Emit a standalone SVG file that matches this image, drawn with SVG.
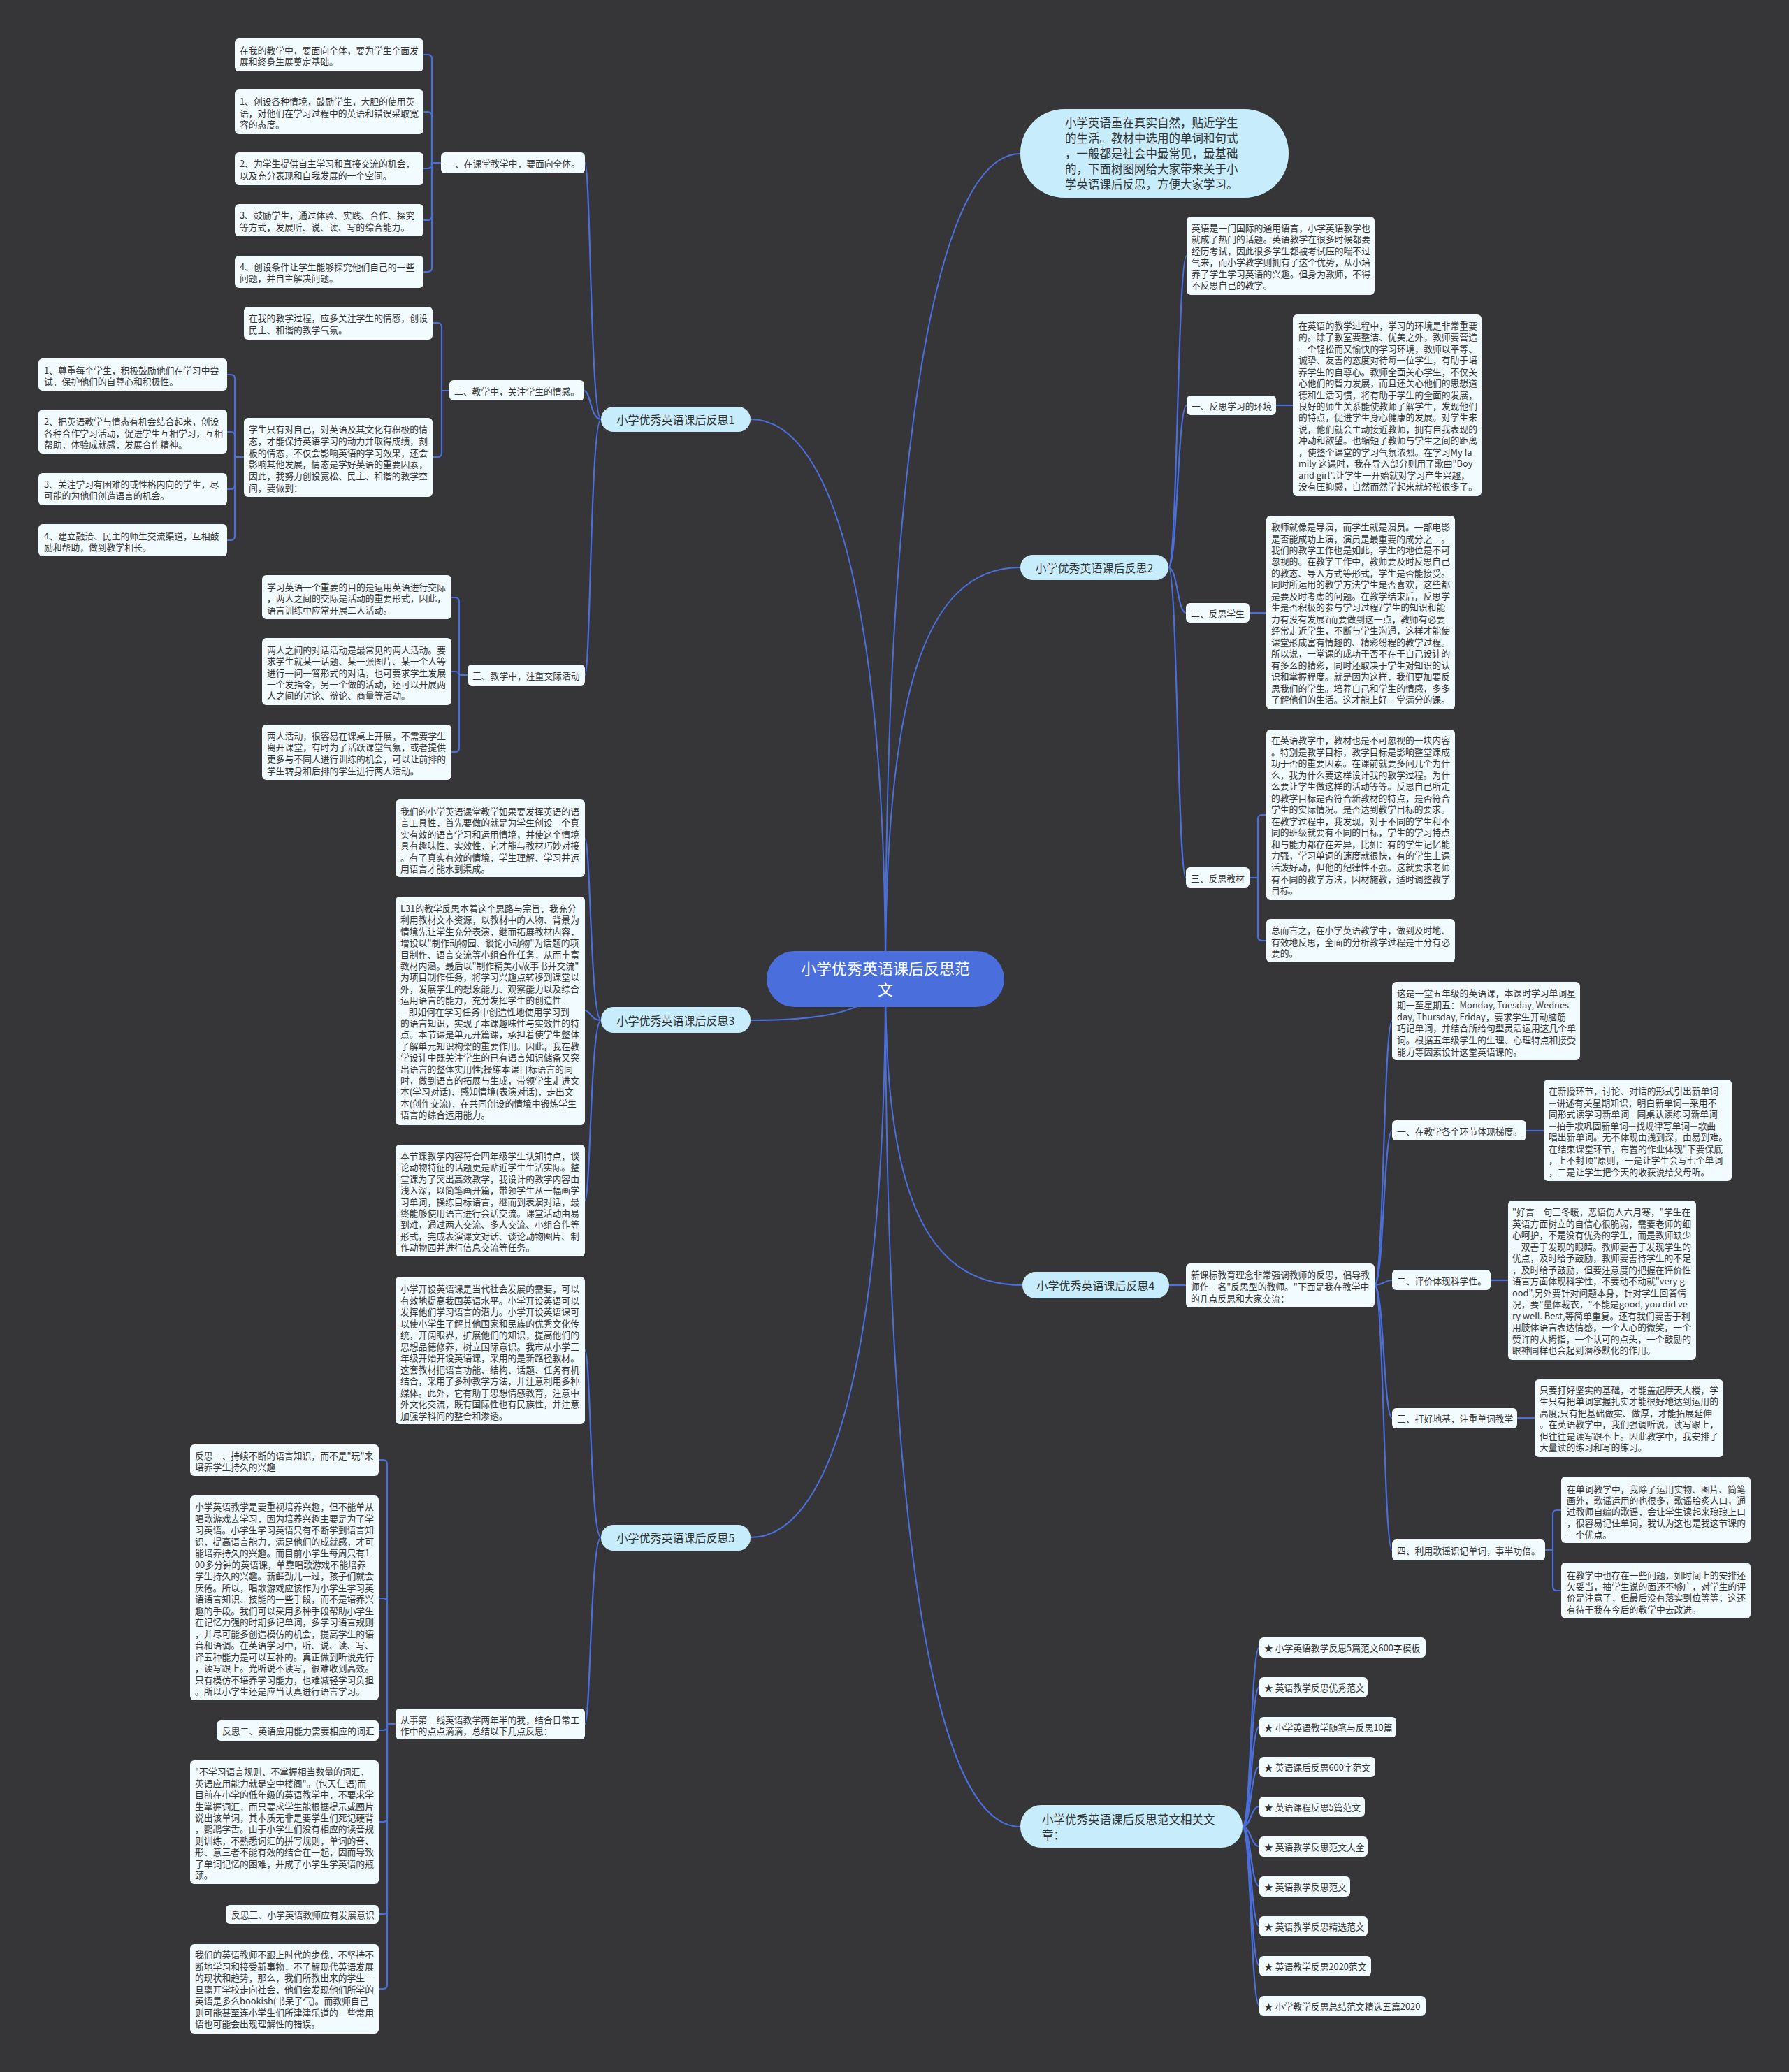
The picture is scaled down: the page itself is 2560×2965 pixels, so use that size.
<svg xmlns="http://www.w3.org/2000/svg" width="2560" height="2965" viewBox="0 0 2560 2965">
<style>
.bx{fill:#f2fbff}
.br{fill:#c7edfc}
.t{font-family:"Noto Sans CJK SC","Noto Sans",sans-serif;font-size:12.8px;fill:#333;dominant-baseline:central}
.bt{font-size:16px}
.it{font-size:16.5px}
.ct{font-family:"Noto Sans CJK SC","Noto Sans",sans-serif;font-size:22px;fill:#fff;dominant-baseline:central}
.ln{fill:none;stroke:#4a6fdc;stroke-width:2.2}
.mn{fill:none;stroke:#4a6fdc;stroke-width:2}
</style>
<rect width="2560" height="2965" fill="#363638"/>

<g id="connectors">
<path class="mn" d="M1267 1401 C1267 700 1330 220 1460 220"/>
<path class="mn" d="M1267 1401 C1267 1000 1320 812 1460 812"/>
<path class="mn" d="M1267 1401 C1267 1700 1320 1839 1463 1839"/>
<path class="mn" d="M1267 1401 C1267 2150 1330 2614 1460 2614"/>
<path class="mn" d="M1267 1401 C1267 900 1200 600 1074 600"/>
<path class="mn" d="M1267 1401 C1250 1455 1150 1460 1074 1460"/>
<path class="mn" d="M1267 1401 C1267 1900 1200 2200 1074 2200"/>

<path class="ln" d="M860 600 C845 600 845 233 837 233"/>
<path class="ln" d="M860 600 C845 600 845 559 836 559"/>
<path class="ln" d="M860 600 C845 600 845 966 837 966"/>
<path class="ln" d="M631 233 H618 V84 Q618 78 612 78 H606"/>
<path class="ln" d="M631 233 H618 V166 Q618 160 612 160 H606"/>
<path class="ln" d="M631 233 H618 V235 Q618 241 612 241 H606"/>
<path class="ln" d="M631 233 H618 V309 Q618 315 612 315 H606"/>
<path class="ln" d="M631 233 H618 V383 Q618 389 612 389 H606"/>
<path class="ln" d="M643 559 H632 V468 Q632 462 626 462 H619"/>
<path class="ln" d="M643 559 H632 V648 Q632 654 626 654 H619"/>
<path class="ln" d="M349 654 H336 V542 Q336 536 330 536 H325"/>
<path class="ln" d="M349 654 H336 V624 Q336 618 330 618 H325"/>
<path class="ln" d="M349 654 H336 V694 Q336 700 330 700 H325"/>
<path class="ln" d="M349 654 H336 V767 Q336 773 330 773 H325"/>
<path class="ln" d="M669 966 H657 V861 Q657 855 651 855 H646"/>
<path class="ln" d="M669 966 H657 Q657 961 651 961 H646"/>
<path class="ln" d="M669 966 H657 V1070 Q657 1076 651 1076 H646"/>

<path class="ln" d="M860 1460 C845 1460 845 1200 837 1200"/>
<path class="ln" d="M860 1460 C845 1460 845 1446 837 1446"/>
<path class="ln" d="M860 1460 C845 1460 845 1718 837 1718"/>

<path class="ln" d="M860 2200 C845 2200 845 1932 837 1932"/>
<path class="ln" d="M860 2200 C845 2200 845 2467 837 2467"/>
<path class="ln" d="M566 2467 H554 V2095 Q554 2089 548 2089 H542"/>
<path class="ln" d="M566 2467 H554 V2293 Q554 2287 548 2287 H542"/>
<path class="ln" d="M566 2467 H554 V2470 Q554 2476 548 2476 H542"/>
<path class="ln" d="M566 2467 H554 V2601 Q554 2607 548 2607 H542"/>
<path class="ln" d="M566 2467 H554 V2733 Q554 2739 548 2739 H542"/>
<path class="ln" d="M566 2467 H554 V2840 Q554 2846 548 2846 H542"/>

<path class="ln" d="M1672 812 C1685 812 1685 366 1698 366"/>
<path class="ln" d="M1672 812 C1685 812 1685 580 1698 580"/>
<path class="ln" d="M1672 812 C1685 812 1685 877 1697 877"/>
<path class="ln" d="M1672 812 C1685 812 1685 1256 1697 1256"/>
<path class="ln" d="M1826 580 H1850"/>
<path class="ln" d="M1788 877 H1812"/>
<path class="ln" d="M1788 1256 H1800 V1172 Q1800 1166 1806 1166 H1812"/>
<path class="ln" d="M1788 1256 H1800 V1340 Q1800 1346 1806 1346 H1812"/>

<path class="ln" d="M1673 1839 H1697"/>
<path class="ln" d="M1967 1839 C1980 1839 1980 1461 1992 1461"/>
<path class="ln" d="M1967 1839 C1980 1839 1980 1618 1992 1618"/>
<path class="ln" d="M1967 1839 C1980 1839 1980 1832 1992 1832"/>
<path class="ln" d="M1967 1839 C1980 1839 1980 2029 1992 2029"/>
<path class="ln" d="M1967 1839 C1980 1839 1980 2218 1992 2218"/>
<path class="ln" d="M2184 1618 H2209"/>
<path class="ln" d="M2133 1832 H2158"/>
<path class="ln" d="M2171 2029 H2196"/>
<path class="ln" d="M2211 2218 H2222 V2167 Q2222 2161 2228 2161 H2234"/>
<path class="ln" d="M2211 2218 H2222 V2270 Q2222 2276 2228 2276 H2234"/>

<path class="ln" d="M1778 2614 C1790 2614 1790 2357 1802 2357"/>
<path class="ln" d="M1778 2614 C1790 2614 1790 2414 1802 2414"/>
<path class="ln" d="M1778 2614 C1790 2614 1790 2471 1802 2471"/>
<path class="ln" d="M1778 2614 C1790 2614 1790 2528 1802 2528"/>
<path class="ln" d="M1778 2614 C1790 2614 1790 2585 1802 2585"/>
<path class="ln" d="M1778 2614 C1790 2614 1790 2642 1802 2642"/>
<path class="ln" d="M1778 2614 C1790 2614 1790 2699 1802 2699"/>
<path class="ln" d="M1778 2614 C1790 2614 1790 2756 1802 2756"/>
<path class="ln" d="M1778 2614 C1790 2614 1790 2813 1802 2813"/>
<path class="ln" d="M1778 2614 C1790 2614 1790 2870 1802 2870"/>
</g>

<g id="center">
<rect x="1097" y="1361" width="340" height="80" rx="40" fill="#4a6fdc"/>
<text class="ct" text-anchor="middle"><tspan x="1267" y="1384">小学优秀英语课后反思范</tspan><tspan x="1267" y="1414">文</tspan></text>
</g>

<g id="intro">
<rect class="br" x="1460" y="156" width="384" height="127" rx="63"/>
<text class="t it"><tspan x="1524" y="175">小学英语重在真实自然，贴近学生</tspan><tspan x="1524" y="197">的生活。教材中选用的单词和句式</tspan><tspan x="1524" y="219">，一般都是社会中最常见，最基础</tspan><tspan x="1524" y="241">的，下面树图网给大家带来关于小</tspan><tspan x="1524" y="263">学英语课后反思，方便大家学习。</tspan></text>
</g>

<g id="branch1">
<rect class="br" x="860" y="582" width="214" height="36" rx="18"/>
<text class="t bt" x="967" y="600" text-anchor="middle">小学优秀英语课后反思1</text>
</g>
<g id="b1-s1">
<rect class="bx" x="631" y="218" width="206" height="30" rx="6"/>
<text class="t" x="638" y="233">一、在课堂教学中，要面向全体。</text>
</g>
<g id="b1-s1-a">
<rect class="bx" x="336" y="55" width="270" height="47" rx="6"/>
<text class="t"><tspan x="343" y="71">在我的教学中，要面向全体，要为学生全面发</tspan><tspan x="343" y="87">展和终身生展奠定基础。</tspan></text>
</g>
<g id="b1-s1-b">
<rect class="bx" x="336" y="128" width="270" height="64" rx="6"/>
<text class="t"><tspan x="343" y="144">1、创设各种情境，鼓励学生，大胆的使用英</tspan><tspan x="343" y="161">语，对他们在学习过程中的英语和错误采取宽</tspan><tspan x="343" y="177">容的态度。</tspan></text>
</g>
<g id="b1-s1-c">
<rect class="bx" x="336" y="218" width="270" height="47" rx="6"/>
<text class="t"><tspan x="343" y="233">2、为学生提供自主学习和直接交流的机会，</tspan><tspan x="343" y="250">以及充分表现和自我发展的一个空间。</tspan></text>
</g>
<g id="b1-s1-d">
<rect class="bx" x="336" y="292" width="270" height="46" rx="6"/>
<text class="t"><tspan x="343" y="307">3、鼓励学生，通过体验、实践、合作、探究</tspan><tspan x="343" y="324">等方式，发展听、说、读、写的综合能力。</tspan></text>
</g>
<g id="b1-s1-e">
<rect class="bx" x="336" y="366" width="270" height="46" rx="6"/>
<text class="t"><tspan x="343" y="381">4、创设条件让学生能够探究他们自己的一些</tspan><tspan x="343" y="397">问题，并自主解决问题。</tspan></text>
</g>

<g id="b1-s2">
<rect class="bx" x="643" y="544" width="193" height="29" rx="6"/>
<text class="t" x="650" y="559">二、教学中，关注学生的情感。</text>
</g>
<g id="b1-s2-f">
<rect class="bx" x="349" y="439" width="270" height="47" rx="6"/>
<text class="t"><tspan x="356" y="454">在我的教学过程，应多关注学生的情感，创设</tspan><tspan x="356" y="471">民主、和谐的教学气氛。</tspan></text>
</g>
<g id="b1-s2-g">
<rect class="bx" x="349" y="598" width="270" height="113" rx="6"/>
<text class="t"><tspan x="356" y="613">学生只有对自己，对英语及其文化有积极的情</tspan><tspan x="356" y="630">态，才能保持英语学习的动力并取得成绩，刻</tspan><tspan x="356" y="647">板的情态，不仅会影响英语的学习效果，还会</tspan><tspan x="356" y="663">影响其他发展，情态是学好英语的重要因素，</tspan><tspan x="356" y="680">因此，我努力创设宽松、民主、和谐的教学空</tspan><tspan x="356" y="697">间，要做到：</tspan></text>
</g>
<g id="b1-s2-g1">
<rect class="bx" x="55" y="513" width="270" height="46" rx="6"/>
<text class="t"><tspan x="63" y="529">1、尊重每个学生，积极鼓励他们在学习中尝</tspan><tspan x="63" y="545">试，保护他们的自尊心和积极性。</tspan></text>
</g>
<g id="b1-s2-g2">
<rect class="bx" x="55" y="586" width="270" height="63" rx="6"/>
<text class="t"><tspan x="63" y="602">2、把英语教学与情态有机会结合起来，创设</tspan><tspan x="63" y="619">各种合作学习活动，促进学生互相学习，互相</tspan><tspan x="63" y="635">帮助，体验成就感，发展合作精神。</tspan></text>
</g>
<g id="b1-s2-g3">
<rect class="bx" x="55" y="677" width="270" height="46" rx="6"/>
<text class="t"><tspan x="63" y="692">3、关注学习有困难的或性格内向的学生，尽</tspan><tspan x="63" y="708">可能的为他们创造语言的机会。</tspan></text>
</g>
<g id="b1-s2-g4">
<rect class="bx" x="55" y="750" width="270" height="46" rx="6"/>
<text class="t"><tspan x="63" y="766">4、建立融洽、民主的师生交流渠道，互相鼓</tspan><tspan x="63" y="782">励和帮助，做到教学相长。</tspan></text>
</g>

<g id="b1-s3">
<rect class="bx" x="669" y="951" width="168" height="30" rx="6"/>
<text class="t" x="676" y="966">三、教学中，注重交际活动</text>
</g>
<g id="b1-s3-h">
<rect class="bx" x="375" y="823" width="271" height="63" rx="6"/>
<text class="t"><tspan x="382" y="839">学习英语一个重要的目的是运用英语进行交际</tspan><tspan x="382" y="855">，两人之间的交际是活动的重要形式，因此，</tspan><tspan x="382" y="872">语言训练中应常开展二人活动。</tspan></text>
</g>
<g id="b1-s3-i">
<rect class="bx" x="375" y="913" width="271" height="96" rx="6"/>
<text class="t"><tspan x="382" y="929">两人之间的对话活动是最常见的两人活动。要</tspan><tspan x="382" y="945">求学生就某一话题、某一张图片、某一个人等</tspan><tspan x="382" y="962">进行一问一答形式的对话，也可要求学生发展</tspan><tspan x="382" y="978">一个发指令，另一个做的活动，还可以开展两</tspan><tspan x="382" y="994">人之间的讨论、辩论、商量等活动。</tspan></text>
</g>
<g id="b1-s3-j">
<rect class="bx" x="375" y="1037" width="271" height="79" rx="6"/>
<text class="t"><tspan x="382" y="1052">两人活动，很容易在课桌上开展，不需要学生</tspan><tspan x="382" y="1068">离开课堂，有时为了活跃课堂气氛，或者提供</tspan><tspan x="382" y="1085">更多与不同人进行训练的机会，可以让前排的</tspan><tspan x="382" y="1102">学生转身和后排的学生进行两人活动。</tspan></text>
</g>

<g id="branch3">
<rect class="br" x="860" y="1441" width="214" height="37" rx="18"/>
<text class="t bt" x="967" y="1460" text-anchor="middle">小学优秀英语课后反思3</text>
</g>
<g id="b3-1">
<rect class="bx" x="566" y="1144" width="271" height="111" rx="6"/>
<text class="t"><tspan x="573" y="1160">我们的小学英语课堂教学如果要发挥英语的语</tspan><tspan x="573" y="1176">言工具性，首先要做的就是为学生创设一个真</tspan><tspan x="573" y="1193">实有效的语言学习和运用情境，并使这个情境</tspan><tspan x="573" y="1209">具有趣味性、实效性，它才能与教材巧妙对接</tspan><tspan x="573" y="1226">。有了真实有效的情境，学生理解、学习并运</tspan><tspan x="573" y="1242">用语言才能水到渠成。</tspan></text>
</g>
<g id="b3-2">
<rect class="bx" x="566" y="1283" width="271" height="327" rx="6"/>
<text class="t"><tspan x="573" y="1299">L31的教学反思本着这个思路与宗旨，我充分</tspan><tspan x="573" y="1315.4">利用教材文本资源，以教材中的人物、背景为</tspan><tspan x="573" y="1331.8">情境先让学生充分表演，继而拓展教材内容，</tspan><tspan x="573" y="1348.2">增设以"制作动物园、谈论小动物"为话题的项</tspan><tspan x="573" y="1364.6">目制作、语言交流等小组合作任务，从而丰富</tspan><tspan x="573" y="1381">教材内涵。最后以"制作精美小故事书并交流"</tspan><tspan x="573" y="1397.4">为项目制作任务，将学习兴趣点转移到课堂以</tspan><tspan x="573" y="1413.8">外，发展学生的想象能力、观察能力以及综合</tspan><tspan x="573" y="1430.2">运用语言的能力，充分发挥学生的创造性—</tspan><tspan x="573" y="1446.6">—即如何在学习任务中创造性地使用学习到</tspan><tspan x="573" y="1463">的语言知识，实现了本课趣味性与实效性的特</tspan><tspan x="573" y="1479.4">点。本节课是单元开篇课，承担着使学生整体</tspan><tspan x="573" y="1495.8">了解单元知识构架的重要作用。因此，我在教</tspan><tspan x="573" y="1512.2">学设计中既关注学生的已有语言知识储备又突</tspan><tspan x="573" y="1528.6">出语言的整体实用性;操练本课目标语言的同</tspan><tspan x="573" y="1545">时，做到语言的拓展与生成，带领学生走进文</tspan><tspan x="573" y="1561.4">本(学习对话)、感知情境(表演对话)，走出文</tspan><tspan x="573" y="1577.8">本(创作交流)，在共同创设的情境中锻炼学生</tspan><tspan x="573" y="1594.2">语言的综合运用能力。</tspan></text>
</g>
<g id="b3-3">
<rect class="bx" x="566" y="1638" width="271" height="160" rx="6"/>
<text class="t"><tspan x="573" y="1653">本节课教学内容符合四年级学生认知特点，谈</tspan><tspan x="573" y="1669.4">论动物特征的话题更是贴近学生生活实际。整</tspan><tspan x="573" y="1685.8">堂课为了突出高效教学，我设计的教学内容由</tspan><tspan x="573" y="1702.2">浅入深，以简笔画开篇，带领学生从一幅画学</tspan><tspan x="573" y="1718.6">习单词，操练目标语言，继而到表演对话，最</tspan><tspan x="573" y="1735">终能够使用语言进行会话交流。课堂活动由易</tspan><tspan x="573" y="1751.4">到难，通过两人交流、多人交流、小组合作等</tspan><tspan x="573" y="1767.8">形式，完成表演课文对话、谈论动物图片、制</tspan><tspan x="573" y="1784.2">作动物园并进行信息交流等任务。</tspan></text>
</g>

<g id="branch5">
<rect class="br" x="860" y="2182" width="214" height="37" rx="18"/>
<text class="t bt" x="967" y="2200" text-anchor="middle">小学优秀英语课后反思5</text>
</g>
<g id="b5-k">
<rect class="bx" x="566" y="1827" width="271" height="211" rx="6"/>
<text class="t"><tspan x="573" y="1843">小学开设英语课是当代社会发展的需要，可以</tspan><tspan x="573" y="1859.5">有效地提高我国英语水平。小学开设英语可以</tspan><tspan x="573" y="1876">发挥他们学习语言的潜力。小学开设英语课可</tspan><tspan x="573" y="1892.5">以使小学生了解其他国家和民族的优秀文化传</tspan><tspan x="573" y="1909">统，开阔眼界，扩展他们的知识，提高他们的</tspan><tspan x="573" y="1925.5">思想品德修养，树立国际意识。我市从小学三</tspan><tspan x="573" y="1942">年级开始开设英语课，采用的是新路径教材。</tspan><tspan x="573" y="1958.5">这套教材把语言功能、结构、话题、任务有机</tspan><tspan x="573" y="1975">结合，采用了多种教学方法，并注意利用多种</tspan><tspan x="573" y="1991.5">媒体。此外，它有助于思想情感教育，注意中</tspan><tspan x="573" y="2008">外文化交流，既有国际性也有民族性，并注意</tspan><tspan x="573" y="2024.5">加强学科间的整合和渗透。</tspan></text>
</g>
<g id="b5-l">
<rect class="bx" x="566" y="2445" width="271" height="44" rx="6"/>
<text class="t"><tspan x="573" y="2460">从事第一线英语教学两年半的我，结合日常工</tspan><tspan x="573" y="2476">作中的点点滴滴，总结以下几点反思：</tspan></text>
</g>
<g id="b5-l1">
<rect class="bx" x="272" y="2067" width="270" height="45" rx="6"/>
<text class="t"><tspan x="279" y="2082">反思一、持续不断的语言知识，而不是"玩"来</tspan><tspan x="279" y="2098">培养学生持久的兴趣</tspan></text>
</g>
<g id="b5-l2">
<rect class="bx" x="272" y="2140" width="270" height="293" rx="6"/>
<text class="t"><tspan x="279" y="2155">小学英语教学是要重视培养兴趣，但不能单从</tspan><tspan x="279" y="2171.5">唱歌游戏去学习，因为培养兴趣主要是为了学</tspan><tspan x="279" y="2188">习英语。小学生学习英语只有不断学到语言知</tspan><tspan x="279" y="2204.5">识，提高语言能力，满足他们的成就感，才可</tspan><tspan x="279" y="2221">能培养持久的兴趣。而目前小学生每周只有1</tspan><tspan x="279" y="2237.5">00多分钟的英语课，单靠唱歌游戏不能培养</tspan><tspan x="279" y="2254">学生持久的兴趣。新鲜劲儿一过，孩子们就会</tspan><tspan x="279" y="2270.5">厌倦。所以，唱歌游戏应该作为小学生学习英</tspan><tspan x="279" y="2287">语语言知识、技能的一些手段，而不是培养兴</tspan><tspan x="279" y="2303.5">趣的手段。我们可以采用多种手段帮助小学生</tspan><tspan x="279" y="2320">在记忆力强的时期多记单词，多学习语言规则</tspan><tspan x="279" y="2336.5">，并尽可能多创造模仿的机会，提高学生的语</tspan><tspan x="279" y="2353">音和语调。在英语学习中，听、说、读、写、</tspan><tspan x="279" y="2369.5">译五种能力是可以互补的。真正做到听说先行</tspan><tspan x="279" y="2386">，读写跟上。光听说不读写，很难收到高效。</tspan><tspan x="279" y="2402.5">只有模仿不培养学习能力，也难减轻学习负担</tspan><tspan x="279" y="2419">。所以小学生还是应当认真进行语言学习。</tspan></text>
</g>
<g id="b5-l3">
<rect class="bx" x="310" y="2462" width="232" height="29" rx="6"/>
<text class="t" x="318" y="2476">反思二、英语应用能力需要相应的词汇</text>
</g>
<g id="b5-l4">
<rect class="bx" x="272" y="2519" width="270" height="177" rx="6"/>
<text class="t"><tspan x="279" y="2534">"不学习语言规则、不掌握相当数量的词汇，</tspan><tspan x="279" y="2550.5">英语应用能力就是空中楼阁"。(包天仁语)而</tspan><tspan x="279" y="2567">目前在小学的低年级的英语教学中，不要求学</tspan><tspan x="279" y="2583.5">生掌握词汇，而只要求学生能根据提示或图片</tspan><tspan x="279" y="2600">说出该单词，其本质无非是要学生们死记硬背</tspan><tspan x="279" y="2616">，鹦鹉学舌。由于小学生们没有相应的读音规</tspan><tspan x="279" y="2632.5">则训练，不熟悉词汇的拼写规则，单词的音、</tspan><tspan x="279" y="2649">形、意三者不能有效的结合在一起，因而导致</tspan><tspan x="279" y="2665.5">了单词记忆的困难，并成了小学生学英语的瓶</tspan><tspan x="279" y="2682">颈。</tspan></text>
</g>
<g id="b5-l5">
<rect class="bx" x="323" y="2726" width="219" height="27" rx="6"/>
<text class="t" x="331" y="2739.5">反思三、小学英语教师应有发展意识</text>
</g>
<g id="b5-l6">
<rect class="bx" x="272" y="2782" width="270" height="128" rx="6"/>
<text class="t"><tspan x="279" y="2796">我们的英语教师不跟上时代的步伐，不坚持不</tspan><tspan x="279" y="2812.5">断地学习和接受新事物，不了解现代英语发展</tspan><tspan x="279" y="2829">的现状和趋势，那么，我们所教出来的学生一</tspan><tspan x="279" y="2845.5">旦离开学校走向社会，他们会发现他们所学的</tspan><tspan x="279" y="2862">英语是多么bookish(书呆子气)。而教师自己</tspan><tspan x="279" y="2878.5">则可能甚至连小学生们所津津乐道的一些常用</tspan><tspan x="279" y="2895">语也可能会出现理解性的错误。</tspan></text>
</g>

<g id="branch2">
<rect class="br" x="1460" y="794" width="212" height="36" rx="18"/>
<text class="t bt" x="1566" y="812" text-anchor="middle">小学优秀英语课后反思2</text>
</g>
<g id="b2-m">
<rect class="bx" x="1698" y="310" width="269" height="112" rx="6"/>
<text class="t"><tspan x="1705" y="325">英语是一门国际的通用语言，小学英语教学也</tspan><tspan x="1705" y="341.4">就成了热门的话题。英语教学在很多时候都要</tspan><tspan x="1705" y="357.8">经历考试，因此很多学生都被考试压的喘不过</tspan><tspan x="1705" y="374.2">气来，而小学教学则拥有了这个优势，从小培</tspan><tspan x="1705" y="390.6">养了学生学习英语的兴趣。但身为教师，不得</tspan><tspan x="1705" y="407">不反思自己的教学。</tspan></text>
</g>
<g id="b2-s1">
<rect class="bx" x="1698" y="566" width="128" height="28" rx="6"/>
<text class="t" x="1705" y="580">一、反思学习的环境</text>
</g>
<g id="b2-s1-n">
<rect class="bx" x="1850" y="450" width="270" height="260" rx="6"/>
<text class="t"><tspan x="1858" y="465">在英语的教学过程中，学习的环境是非常重要</tspan><tspan x="1858" y="481.4">的。除了教室要整洁、优美之外，教师要营造</tspan><tspan x="1858" y="497.9">一个轻松而又愉快的学习环境，教师以平等、</tspan><tspan x="1858" y="514.3">诚挚、友善的态度对待每一位学生，有助于培</tspan><tspan x="1858" y="530.7">养学生的自尊心。教师全面关心学生，不仅关</tspan><tspan x="1858" y="547.1">心他们的智力发展，而且还关心他们的思想道</tspan><tspan x="1858" y="563.6">德和生活习惯，将有助于学生的全面的发展，</tspan><tspan x="1858" y="580">良好的师生关系能使教师了解学生，发现他们</tspan><tspan x="1858" y="596.4">的特点，促进学生身心健康的发展。对学生来</tspan><tspan x="1858" y="612.9">说，他们就会主动接近教师，拥有自我表现的</tspan><tspan x="1858" y="629.3">冲动和欲望。也缩短了教师与学生之间的距离</tspan><tspan x="1858" y="645.7">，使整个课堂的学习气氛浓烈。在学习My fa</tspan><tspan x="1858" y="662.1">mily 这课时，我在导入部分则用了歌曲"Boy</tspan><tspan x="1858" y="678.6">and girl".让学生一开始就对学习产生兴趣，</tspan><tspan x="1858" y="695">没有压抑感，自然而然学起来就轻松很多了。</tspan></text>
</g>
<g id="b2-s2">
<rect class="bx" x="1697" y="863" width="91" height="28" rx="6"/>
<text class="t" x="1704" y="877">二、反思学生</text>
</g>
<g id="b2-s2-o">
<rect class="bx" x="1812" y="738" width="270" height="277" rx="6"/>
<text class="t"><tspan x="1819" y="753">教师就像是导演，而学生就是演员。一部电影</tspan><tspan x="1819" y="769.5">是否能成功上演，演员是最重要的成分之一。</tspan><tspan x="1819" y="785.9">我们的教学工作也是如此，学生的地位是不可</tspan><tspan x="1819" y="802.4">忽视的。在教学工作中，教师要及时反思自己</tspan><tspan x="1819" y="818.9">的教态、导入方式等形式，学生是否能接受。</tspan><tspan x="1819" y="835.4">同时所运用的教学方法学生是否喜欢，这些都</tspan><tspan x="1819" y="851.8">是要及时考虑的问题。在教学结束后，反思学</tspan><tspan x="1819" y="868.3">生是否积极的参与学习过程?学生的知识和能</tspan><tspan x="1819" y="884.8">力有没有发展?而要做到这一点，教师有必要</tspan><tspan x="1819" y="901.2">经常走近学生，不断与学生沟通，这样才能使</tspan><tspan x="1819" y="917.7">课堂形成富有情趣的、精彩纷程的教学过程。</tspan><tspan x="1819" y="934.2">所以说，一堂课的成功于否不在于自己设计的</tspan><tspan x="1819" y="950.6">有多么的精彩，同时还取决于学生对知识的认</tspan><tspan x="1819" y="967.1">识和掌握程度。就是因为这样，我们更加要反</tspan><tspan x="1819" y="983.6">思我们的学生。培养自己和学生的情感，多多</tspan><tspan x="1819" y="1000">了解他们的生活。这才能上好一堂满分的课。</tspan></text>
</g>
<g id="b2-s3">
<rect class="bx" x="1697" y="1241" width="91" height="29" rx="6"/>
<text class="t" x="1704" y="1256">三、反思教材</text>
</g>
<g id="b2-s3-p">
<rect class="bx" x="1812" y="1044" width="270" height="244" rx="6"/>
<text class="t"><tspan x="1819" y="1058">在英语教学中，教材也是不可忽视的一块内容</tspan><tspan x="1819" y="1074.5">。特别是教学目标，教学目标是影响整堂课成</tspan><tspan x="1819" y="1091.1">功于否的重要因素。在课前就要多问几个为什</tspan><tspan x="1819" y="1107.6">么，我为什么要这样设计我的教学过程。为什</tspan><tspan x="1819" y="1124.2">么要让学生做这样的活动等等。反思自己所定</tspan><tspan x="1819" y="1140.7">的教学目标是否符合新教材的特点，是否符合</tspan><tspan x="1819" y="1157.2">学生的实际情况。是否达到教学目标的要求。</tspan><tspan x="1819" y="1173.8">在教学过程中，我发现，对于不同的学生和不</tspan><tspan x="1819" y="1190.3">同的班级就要有不同的目标，学生的学习特点</tspan><tspan x="1819" y="1206.9">和与能力都存在差异，比如：有的学生记忆能</tspan><tspan x="1819" y="1223.4">力强，学习单词的速度就很快，有的学生上课</tspan><tspan x="1819" y="1239.9">活泼好动，但他的纪律性不强。这就要求老师</tspan><tspan x="1819" y="1256.5">有不同的教学方法，因材施教，适时调整教学</tspan><tspan x="1819" y="1273">目标。</tspan></text>
</g>
<g id="b2-s3-q">
<rect class="bx" x="1812" y="1315" width="270" height="62" rx="6"/>
<text class="t"><tspan x="1819" y="1330">总而言之，在小学英语教学中，做到及时地、</tspan><tspan x="1819" y="1347">有效地反思，全面的分析教学过程是十分有必</tspan><tspan x="1819" y="1363">要的。</tspan></text>
</g>

<g id="branch4">
<rect class="br" x="1463" y="1820" width="210" height="38" rx="19"/>
<text class="t bt" x="1568" y="1839" text-anchor="middle">小学优秀英语课后反思4</text>
</g>
<g id="b4-r">
<rect class="bx" x="1697" y="1808" width="270" height="63" rx="6"/>
<text class="t"><tspan x="1704" y="1823">新课标教育理念非常强调教师的反思，倡导教</tspan><tspan x="1704" y="1840">师作一名"反思型的教师。"下面是我在教学中</tspan><tspan x="1704" y="1857">的几点反思和大家交流：</tspan></text>
</g>
<g id="b4-s">
<rect class="bx" x="1992" y="1405" width="269" height="112" rx="6"/>
<text class="t"><tspan x="1999" y="1420">这是一堂五年级的英语课，本课时学习单词星</tspan><tspan x="1999" y="1436.8">期一至星期五：Monday, Tuesday, Wednes</tspan><tspan x="1999" y="1453.6">day, Thursday, Friday，要求学生开动脑筋</tspan><tspan x="1999" y="1470.4">巧记单词，并结合所给句型灵活运用这几个单</tspan><tspan x="1999" y="1487.2">词。根据五年级学生的生理、心理特点和接受</tspan><tspan x="1999" y="1504">能力等因素设计这堂英语课的。</tspan></text>
</g>
<g id="b4-s1">
<rect class="bx" x="1992" y="1603" width="192" height="29" rx="6"/>
<text class="t" x="1999" y="1618">一、在教学各个环节体现梯度。</text>
</g>
<g id="b4-s1-t">
<rect class="bx" x="2209" y="1545" width="269" height="145" rx="6"/>
<text class="t"><tspan x="2216" y="1560">在新授环节，讨论、对话的形式引出新单词</tspan><tspan x="2216" y="1576.6">—讲述有关星期知识，明白新单词—采用不</tspan><tspan x="2216" y="1593.1">同形式读学习新单词—同桌认读练习新单词</tspan><tspan x="2216" y="1609.7">—拍手歌巩固新单词—找规律写单词—歌曲</tspan><tspan x="2216" y="1626.3">唱出新单词。无不体现由浅到深，由易到难。</tspan><tspan x="2216" y="1642.9">在结束课堂环节，布置的作业体现"下要保底</tspan><tspan x="2216" y="1659.4">，上不封顶"原则，一是让学生会写七个单词</tspan><tspan x="2216" y="1676">，二是让学生把今天的收获说给父母听。</tspan></text>
</g>
<g id="b4-s2">
<rect class="bx" x="1992" y="1817" width="141" height="29" rx="6"/>
<text class="t" x="1999" y="1832">二、评价体现科学性。</text>
</g>
<g id="b4-s2-u">
<rect class="bx" x="2158" y="1718" width="269" height="228" rx="6"/>
<text class="t"><tspan x="2164" y="1733">"好言一句三冬暖，恶语伤人六月寒，"学生在</tspan><tspan x="2164" y="1749.5">英语方面树立的自信心很脆弱，需要老师的细</tspan><tspan x="2164" y="1766">心呵护，不是没有优秀的学生，而是教师缺少</tspan><tspan x="2164" y="1782.5">一双善于发现的眼睛。教师要善于发现学生的</tspan><tspan x="2164" y="1799">优点，及时给予鼓励，教师要善待学生的不足</tspan><tspan x="2164" y="1815.5">，及时给予鼓励，但要注意度的把握在评价性</tspan><tspan x="2164" y="1832">语言方面体现科学性，不要动不动就"very g</tspan><tspan x="2164" y="1848.5">ood",另外要针对问题本身，针对学生回答情</tspan><tspan x="2164" y="1865">况，要"量体裁衣，"不能是good, you did ve</tspan><tspan x="2164" y="1881.5">ry well. Best,等简单重复。还有我们要善于利</tspan><tspan x="2164" y="1898">用肢体语言表达情感，一个人心的微笑，一个</tspan><tspan x="2164" y="1914.5">赞许的大拇指，一个认可的点头，一个鼓励的</tspan><tspan x="2164" y="1931">眼神同样也会起到潜移默化的作用。</tspan></text>
</g>
<g id="b4-s3">
<rect class="bx" x="1992" y="2015" width="179" height="29" rx="6"/>
<text class="t" x="1999" y="2029">三、打好地基，注重单词教学</text>
</g>
<g id="b4-s3-v">
<rect class="bx" x="2196" y="1974" width="270" height="111" rx="6"/>
<text class="t"><tspan x="2203" y="1988">只要打好坚实的基础，才能盖起摩天大楼，学</tspan><tspan x="2203" y="2004.4">生只有把单词掌握扎实才能很好地达到运用的</tspan><tspan x="2203" y="2020.8">高度;只有把基础做实、做厚，才能拓展延伸</tspan><tspan x="2203" y="2037.2">。在英语教学中，我们强调听说，读写跟上，</tspan><tspan x="2203" y="2053.6">但往往是读写跟不上。因此教学中，我安排了</tspan><tspan x="2203" y="2070">大量读的练习和写的练习。</tspan></text>
</g>
<g id="b4-s4">
<rect class="bx" x="1992" y="2203" width="219" height="30" rx="6"/>
<text class="t" x="1999" y="2218">四、利用歌谣识记单词，事半功倍。</text>
</g>
<g id="b4-s4-w">
<rect class="bx" x="2234" y="2113" width="271" height="95" rx="6"/>
<text class="t"><tspan x="2242" y="2130">在单词教学中，我除了运用实物、图片、简笔</tspan><tspan x="2242" y="2146">画外，歌谣运用的也很多，歌谣脍炙人口，通</tspan><tspan x="2242" y="2162">过教师自编的歌谣，会让学生读起来琅琅上口</tspan><tspan x="2242" y="2178">，很容易记住单词，我认为这也是我这节课的</tspan><tspan x="2242" y="2195">一个优点。</tspan></text>
</g>
<g id="b4-s4-x">
<rect class="bx" x="2234" y="2236" width="271" height="80" rx="6"/>
<text class="t"><tspan x="2242" y="2253">在教学中也存在一些问题，如时间上的安排还</tspan><tspan x="2242" y="2269">欠妥当，抽学生说的面还不够广，对学生的评</tspan><tspan x="2242" y="2285">价是注意了，但最后没有落实到位等等，这还</tspan><tspan x="2242" y="2302">有待于我在今后的教学中去改进。</tspan></text>
</g>

<g id="related">
<rect class="br" x="1460" y="2583" width="318" height="61" rx="30"/>
<text class="t it"><tspan x="1491" y="2603">小学优秀英语课后反思范文相关文</tspan><tspan x="1491" y="2625">章：</tspan></text>
</g>
<g id="rel-1"><rect class="bx" x="1802" y="2343" width="238" height="29" rx="6"/><text class="t" x="1809" y="2357.5">★ 小学英语教学反思5篇范文600字模板</text></g>
<g id="rel-2"><rect class="bx" x="1802" y="2400" width="155" height="29" rx="6"/><text class="t" x="1809" y="2414.5">★ 英语教学反思优秀范文</text></g>
<g id="rel-3"><rect class="bx" x="1802" y="2457" width="196" height="29" rx="6"/><text class="t" x="1809" y="2471.5">★ 小学英语教学随笔与反思10篇</text></g>
<g id="rel-4"><rect class="bx" x="1802" y="2514" width="166" height="29" rx="6"/><text class="t" x="1809" y="2528.5">★ 英语课后反思600字范文</text></g>
<g id="rel-5"><rect class="bx" x="1802" y="2571" width="151" height="29" rx="6"/><text class="t" x="1809" y="2585.5">★ 英语课程反思5篇范文</text></g>
<g id="rel-6"><rect class="bx" x="1802" y="2628" width="155" height="29" rx="6"/><text class="t" x="1809" y="2642.5">★ 英语教学反思范文大全</text></g>
<g id="rel-7"><rect class="bx" x="1802" y="2685" width="130" height="29" rx="6"/><text class="t" x="1809" y="2699.5">★ 英语教学反思范文</text></g>
<g id="rel-8"><rect class="bx" x="1802" y="2742" width="155" height="29" rx="6"/><text class="t" x="1809" y="2756.5">★ 英语教学反思精选范文</text></g>
<g id="rel-9"><rect class="bx" x="1802" y="2799" width="160" height="29" rx="6"/><text class="t" x="1809" y="2813.5">★ 英语教学反思2020范文</text></g>
<g id="rel-10"><rect class="bx" x="1802" y="2856" width="238" height="29" rx="6"/><text class="t" x="1809" y="2870.5">★ 小学教学反思总结范文精选五篇2020</text></g>
</svg>
